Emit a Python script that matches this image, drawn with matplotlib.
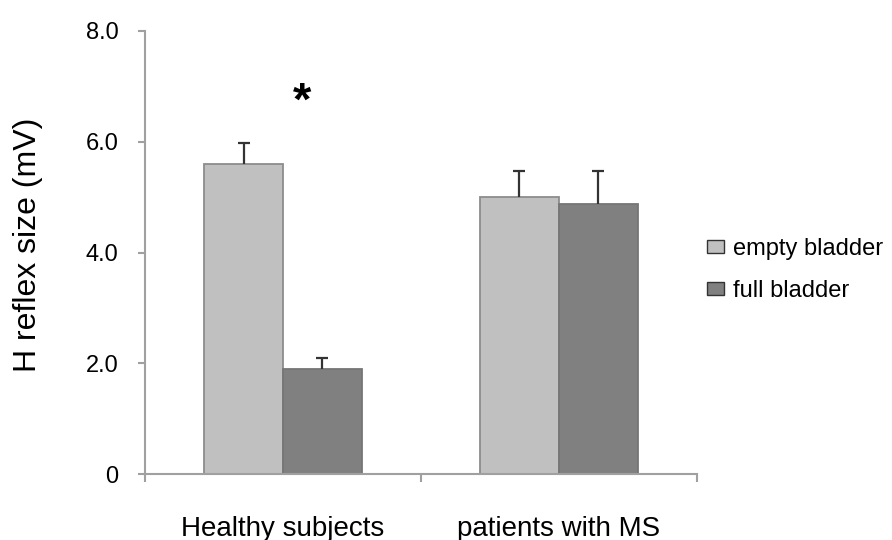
import matplotlib
matplotlib.use("Agg")
import matplotlib.pyplot as plt
from matplotlib.patches import Patch
import numpy as np

plt.rcParams['font.family'] = ['Liberation Sans', 'DejaVu Sans']

groups = ["Healthy subjects", "patients with MS"]
series = ["empty bladder", "full bladder"]
empty_vals = [5.6, 5.0]
full_vals = [1.9, 4.88]
empty_err = [0.37, 0.47]
full_err = [0.2, 0.59]
yticks = [0, 2, 4, 6, 8]
ytick_labels = ["0", "2.0", "4.0", "6.0", "8.0"]

fig = plt.figure(figsize=(8.92, 5.4), dpi=100)
ax = fig.add_axes([0.1626, 0.1222, 0.781 - 0.1626, 0.9426 - 0.1222])

x = np.arange(len(groups))
w = 0.286
c_empty = "#c0c0c0"
c_full = "#808080"
ax.bar(x - w / 2, empty_vals, w, color=c_empty, edgecolor="#8c8c8c", linewidth=1.3, zorder=2)
ax.bar(x + w / 2, full_vals, w, color=c_full, edgecolor="#767676", linewidth=1.3, zorder=2)
for xs, vals, errs in [(x - w / 2, empty_vals, empty_err), (x + w / 2, full_vals, full_err)]:
    cont = ax.errorbar(xs, vals, yerr=[np.zeros(len(errs)), errs], fmt="none",
                       ecolor="#333333", elinewidth=1.6, capsize=4.5, capthick=1.6, zorder=3)
    caps = cont.lines[1]
    if len(caps) > 1:
        caps[0].set_visible(False)

ax.set_xlim(-0.5, 1.5)
ax.set_ylim(0, 8)
ax.set_yticks(yticks)
ax.set_yticklabels(ytick_labels, fontsize=17)
ax.set_xticks(x)
ax.set_xticklabels(groups, fontsize=20)
ax.tick_params(axis="x", which="major", length=0, pad=30)
ax.set_xticks([-0.5, 0.5, 1.5], minor=True)
ax.tick_params(axis="x", which="minor", length=6, width=1.5, color="#a0a0a0", direction="out")
ax.tick_params(axis="y", length=5, width=1.5, color="#a0a0a0", direction="out", pad=14)

for s in ["top", "right"]:
    ax.spines[s].set_visible(False)
for s in ["left", "bottom"]:
    ax.spines[s].set_color("#a0a0a0")
    ax.spines[s].set_linewidth(1.5)

ax.set_ylabel("H reflex size (mV)", fontsize=23)
ax.yaxis.set_label_coords(-0.1848, 0.517)

ax.text(0.07, 6.7, "*", fontsize=34, fontweight="bold", ha="center", va="center")

handles = [Patch(facecolor=c_empty, edgecolor="#333333", linewidth=1.0),
           Patch(facecolor=c_full, edgecolor="#333333", linewidth=1.0)]
fig.legend(handles, series, loc="center left", bbox_to_anchor=(0.7926, 0.5),
           frameon=False, fontsize=17, handlelength=0.7, handleheight=0.5,
           handletextpad=0.42, labelspacing=0.85, borderpad=0, borderaxespad=0)

fig.savefig("out.png", dpi=100)
